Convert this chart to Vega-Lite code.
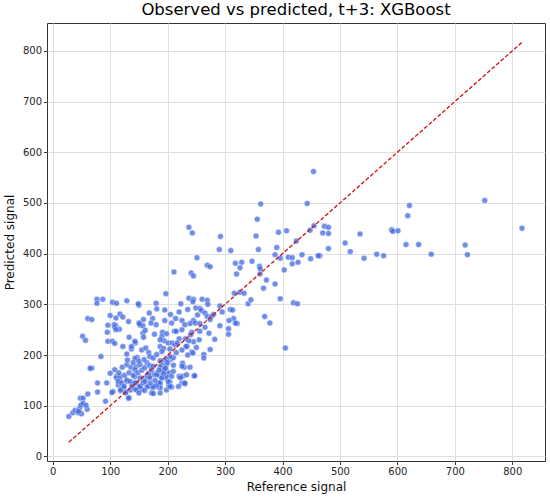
{
  "$schema": "https://vega.github.io/schema/vega-lite/v6.json",
  "autosize": "none",
  "padding": {"left": 47, "top": 23, "right": 5, "bottom": 40},
  "width": 498,
  "height": 438,
  "background": "white",
  "config": {
    "font": "DejaVu Sans",
    "view": {"stroke": "#333333", "strokeWidth": 1},
    "axis": {
      "domain": false,
      "grid": true,
      "gridColor": "#e0e0e0",
      "gridWidth": 1,
      "tickColor": "#333333",
      "tickSize": 3.5,
      "labelFont": "DejaVu Sans",
      "labelFontSize": 10,
      "labelColor": "#262626",
      "labelPadding": 2,
      "titleFont": "DejaVu Sans",
      "titleFontSize": 12,
      "titleFontWeight": "normal",
      "titleColor": "#111111"
    }
  },
  "title": {
    "text": "Observed vs predicted, t+3: XGBoost",
    "font": "DejaVu Sans",
    "fontSize": 16.5,
    "fontWeight": "normal",
    "color": "#000000",
    "anchor": "middle",
    "frame": "group",
    "offset": 5
  },
  "datasets": {
    "points": [
      {"ref": 752, "pred": 505}, {"ref": 817, "pred": 450}, {"ref": 621, "pred": 495}, {"ref": 618, "pred": 475},
      {"ref": 590, "pred": 447}, {"ref": 592, "pred": 444}, {"ref": 601, "pred": 445}, {"ref": 535, "pred": 439},
      {"ref": 473, "pred": 454}, {"ref": 480, "pred": 452}, {"ref": 470, "pred": 441}, {"ref": 480, "pred": 440},
      {"ref": 480, "pred": 410}, {"ref": 465, "pred": 396}, {"ref": 509, "pred": 421}, {"ref": 518, "pred": 404},
      {"ref": 542, "pred": 391}, {"ref": 564, "pred": 399}, {"ref": 576, "pred": 396}, {"ref": 615, "pred": 418},
      {"ref": 637, "pred": 418}, {"ref": 659, "pred": 399}, {"ref": 718, "pred": 417}, {"ref": 722, "pred": 398},
      {"ref": 387, "pred": 340}, {"ref": 396, "pred": 311}, {"ref": 419, "pred": 303}, {"ref": 426, "pred": 301},
      {"ref": 405, "pred": 214}, {"ref": 403, "pred": 368}, {"ref": 427, "pred": 383}, {"ref": 417, "pred": 380},
      {"ref": 410, "pred": 393}, {"ref": 417, "pred": 392}, {"ref": 396, "pred": 391}, {"ref": 434, "pred": 398},
      {"ref": 449, "pred": 390}, {"ref": 462, "pred": 396}, {"ref": 454, "pred": 562}, {"ref": 443, "pred": 499},
      {"ref": 362, "pred": 498}, {"ref": 356, "pred": 468}, {"ref": 237, "pred": 452}, {"ref": 243, "pred": 441},
      {"ref": 292, "pred": 434}, {"ref": 354, "pred": 435}, {"ref": 393, "pred": 442}, {"ref": 407, "pred": 445},
      {"ref": 424, "pred": 425}, {"ref": 448, "pred": 446}, {"ref": 455, "pred": 455}, {"ref": 290, "pred": 408},
      {"ref": 310, "pred": 406}, {"ref": 358, "pred": 408}, {"ref": 390, "pred": 412}, {"ref": 387, "pred": 398},
      {"ref": 251, "pred": 392}, {"ref": 211, "pred": 364}, {"ref": 241, "pred": 362}, {"ref": 245, "pred": 356},
      {"ref": 269, "pred": 377}, {"ref": 274, "pred": 374}, {"ref": 318, "pred": 381}, {"ref": 329, "pred": 383},
      {"ref": 326, "pred": 372}, {"ref": 347, "pred": 385}, {"ref": 360, "pred": 375}, {"ref": 361, "pred": 370},
      {"ref": 320, "pred": 360}, {"ref": 361, "pred": 360}, {"ref": 372, "pred": 348}, {"ref": 367, "pred": 332},
      {"ref": 197, "pred": 321}, {"ref": 316, "pred": 322}, {"ref": 326, "pred": 324}, {"ref": 333, "pred": 322},
      {"ref": 237, "pred": 312}, {"ref": 245, "pred": 310}, {"ref": 260, "pred": 310}, {"ref": 269, "pred": 308},
      {"ref": 244, "pred": 305}, {"ref": 270, "pred": 300}, {"ref": 223, "pred": 301}, {"ref": 195, "pred": 289},
      {"ref": 249, "pred": 293}, {"ref": 256, "pred": 292}, {"ref": 252, "pred": 279}, {"ref": 259, "pred": 288},
      {"ref": 265, "pred": 283}, {"ref": 269, "pred": 276}, {"ref": 276, "pred": 276}, {"ref": 280, "pred": 280},
      {"ref": 274, "pred": 270}, {"ref": 291, "pred": 297}, {"ref": 309, "pred": 290}, {"ref": 295, "pred": 285},
      {"ref": 315, "pred": 272}, {"ref": 321, "pred": 262}, {"ref": 291, "pred": 258}, {"ref": 306, "pred": 252},
      {"ref": 306, "pred": 241}, {"ref": 195, "pred": 268}, {"ref": 214, "pred": 272}, {"ref": 225, "pred": 268},
      {"ref": 207, "pred": 263}, {"ref": 245, "pred": 268}, {"ref": 248, "pred": 263}, {"ref": 239, "pred": 262},
      {"ref": 256, "pred": 262}, {"ref": 212, "pred": 247}, {"ref": 215, "pred": 247}, {"ref": 191, "pred": 245},
      {"ref": 190, "pred": 237}, {"ref": 225, "pred": 250}, {"ref": 272, "pred": 243}, {"ref": 256, "pred": 247},
      {"ref": 242, "pred": 245}, {"ref": 231, "pred": 232}, {"ref": 245, "pred": 226}, {"ref": 220, "pred": 232},
      {"ref": 237, "pred": 228}, {"ref": 282, "pred": 231}, {"ref": 234, "pred": 217}, {"ref": 274, "pred": 211},
      {"ref": 263, "pred": 201}, {"ref": 242, "pred": 206}, {"ref": 244, "pred": 204}, {"ref": 232, "pred": 217},
      {"ref": 194, "pred": 228}, {"ref": 201, "pred": 224}, {"ref": 208, "pred": 224}, {"ref": 213, "pred": 220},
      {"ref": 217, "pred": 224}, {"ref": 187, "pred": 217}, {"ref": 204, "pred": 212}, {"ref": 193, "pred": 213},
      {"ref": 190, "pred": 207}, {"ref": 206, "pred": 192}, {"ref": 210, "pred": 195}, {"ref": 204, "pred": 197},
      {"ref": 187, "pred": 189}, {"ref": 193, "pred": 189}, {"ref": 198, "pred": 191}, {"ref": 190, "pred": 181},
      {"ref": 192, "pred": 174}, {"ref": 197, "pred": 179}, {"ref": 226, "pred": 184}, {"ref": 229, "pred": 176},
      {"ref": 239, "pred": 176}, {"ref": 191, "pred": 168}, {"ref": 198, "pred": 168}, {"ref": 203, "pred": 164},
      {"ref": 220, "pred": 158}, {"ref": 226, "pred": 158}, {"ref": 246, "pred": 159}, {"ref": 187, "pred": 158},
      {"ref": 195, "pred": 155}, {"ref": 198, "pred": 157}, {"ref": 204, "pred": 147}, {"ref": 202, "pred": 141},
      {"ref": 207, "pred": 137}, {"ref": 225, "pred": 145}, {"ref": 230, "pred": 143}, {"ref": 187, "pred": 141},
      {"ref": 187, "pred": 135}, {"ref": 77, "pred": 310}, {"ref": 87, "pred": 310}, {"ref": 77, "pred": 302},
      {"ref": 104, "pred": 304}, {"ref": 111, "pred": 302}, {"ref": 129, "pred": 307}, {"ref": 150, "pred": 298},
      {"ref": 180, "pred": 302}, {"ref": 181, "pred": 291}, {"ref": 168, "pred": 283}, {"ref": 174, "pred": 272},
      {"ref": 180, "pred": 260}, {"ref": 171, "pred": 263}, {"ref": 158, "pred": 270}, {"ref": 100, "pred": 278},
      {"ref": 110, "pred": 273}, {"ref": 117, "pred": 281}, {"ref": 122, "pred": 275}, {"ref": 61, "pred": 272},
      {"ref": 68, "pred": 270}, {"ref": 132, "pred": 266}, {"ref": 150, "pred": 263}, {"ref": 152, "pred": 259},
      {"ref": 157, "pred": 258}, {"ref": 110, "pred": 258}, {"ref": 116, "pred": 251}, {"ref": 95, "pred": 245},
      {"ref": 157, "pred": 243}, {"ref": 177, "pred": 241}, {"ref": 198, "pred": 242}, {"ref": 187, "pred": 230},
      {"ref": 52, "pred": 237}, {"ref": 57, "pred": 229}, {"ref": 96, "pred": 227}, {"ref": 104, "pred": 227},
      {"ref": 108, "pred": 223}, {"ref": 144, "pred": 224}, {"ref": 137, "pred": 212}, {"ref": 84, "pred": 197},
      {"ref": 68, "pred": 174}, {"ref": 100, "pred": 164}, {"ref": 108, "pred": 171}, {"ref": 94, "pred": 145},
      {"ref": 78, "pred": 127}, {"ref": 92, "pred": 109}, {"ref": 133, "pred": 116}, {"ref": 121, "pred": 176},
      {"ref": 129, "pred": 181}, {"ref": 136, "pred": 176}, {"ref": 145, "pred": 177}, {"ref": 152, "pred": 181},
      {"ref": 143, "pred": 171}, {"ref": 164, "pred": 185}, {"ref": 169, "pred": 179}, {"ref": 147, "pred": 195},
      {"ref": 143, "pred": 193}, {"ref": 159, "pred": 191}, {"ref": 155, "pred": 210}, {"ref": 162, "pred": 214},
      {"ref": 167, "pred": 205}, {"ref": 169, "pred": 197}, {"ref": 175, "pred": 194}, {"ref": 181, "pred": 201},
      {"ref": 187, "pred": 177}, {"ref": 193, "pred": 171}, {"ref": 181, "pred": 164}, {"ref": 175, "pred": 161},
      {"ref": 168, "pred": 158}, {"ref": 111, "pred": 158}, {"ref": 117, "pred": 151}, {"ref": 114, "pred": 141},
      {"ref": 123, "pred": 138}, {"ref": 129, "pred": 148}, {"ref": 138, "pred": 141}, {"ref": 135, "pred": 131},
      {"ref": 146, "pred": 145}, {"ref": 151, "pred": 137}, {"ref": 155, "pred": 132}, {"ref": 164, "pred": 138},
      {"ref": 143, "pred": 157}, {"ref": 152, "pred": 155}, {"ref": 158, "pred": 151}, {"ref": 166, "pred": 138},
      {"ref": 174, "pred": 135}, {"ref": 181, "pred": 138}, {"ref": 184, "pred": 145}, {"ref": 105, "pred": 128},
      {"ref": 119, "pred": 133}, {"ref": 126, "pred": 128}, {"ref": 28, "pred": 79}, {"ref": 35, "pred": 86},
      {"ref": 39, "pred": 91}, {"ref": 46, "pred": 93}, {"ref": 48, "pred": 99}, {"ref": 50, "pred": 102},
      {"ref": 48, "pred": 115}, {"ref": 53, "pred": 115}, {"ref": 44, "pred": 86}, {"ref": 50, "pred": 84},
      {"ref": 60, "pred": 93}, {"ref": 53, "pred": 105}, {"ref": 61, "pred": 123}, {"ref": 58, "pred": 101},
      {"ref": 45, "pred": 89}, {"ref": 65, "pred": 174}, {"ref": 78, "pred": 145}, {"ref": 369, "pred": 276},
      {"ref": 378, "pred": 263}, {"ref": 340, "pred": 301}, {"ref": 345, "pred": 309}, {"ref": 313, "pred": 289},
      {"ref": 307, "pred": 268}, {"ref": 318, "pred": 263}, {"ref": 263, "pred": 194}, {"ref": 129, "pred": 202},
      {"ref": 122, "pred": 217}, {"ref": 137, "pred": 217}, {"ref": 143, "pred": 227}, {"ref": 133, "pred": 235},
      {"ref": 149, "pred": 301}, {"ref": 161, "pred": 249}, {"ref": 158, "pred": 235}, {"ref": 151, "pred": 262},
      {"ref": 107, "pred": 260}, {"ref": 96, "pred": 259}, {"ref": 108, "pred": 255}, {"ref": 110, "pred": 250},
      {"ref": 111, "pred": 155}, {"ref": 117, "pred": 158}, {"ref": 114, "pred": 148}, {"ref": 120, "pred": 145},
      {"ref": 124, "pred": 138}, {"ref": 129, "pred": 151}, {"ref": 135, "pred": 148}, {"ref": 138, "pred": 138},
      {"ref": 143, "pred": 133}, {"ref": 146, "pred": 131}, {"ref": 143, "pred": 145}, {"ref": 152, "pred": 138},
      {"ref": 157, "pred": 145}, {"ref": 161, "pred": 148}, {"ref": 164, "pred": 158}, {"ref": 167, "pred": 164},
      {"ref": 169, "pred": 155}, {"ref": 172, "pred": 171}, {"ref": 175, "pred": 178}, {"ref": 181, "pred": 161},
      {"ref": 181, "pred": 141}, {"ref": 187, "pred": 146}, {"ref": 190, "pred": 155}, {"ref": 193, "pred": 164},
      {"ref": 196, "pred": 174}, {"ref": 172, "pred": 125}, {"ref": 175, "pred": 138}, {"ref": 187, "pred": 125},
      {"ref": 198, "pred": 131}, {"ref": 204, "pred": 138}, {"ref": 201, "pred": 148}, {"ref": 207, "pred": 158},
      {"ref": 210, "pred": 168}, {"ref": 222, "pred": 155}, {"ref": 225, "pred": 178}, {"ref": 230, "pred": 145},
      {"ref": 233, "pred": 161}, {"ref": 219, "pred": 138}, {"ref": 132, "pred": 115}, {"ref": 103, "pred": 126},
      {"ref": 175, "pred": 124}, {"ref": 247, "pred": 159}, {"ref": 115, "pred": 165}, {"ref": 125, "pred": 160},
      {"ref": 133, "pred": 165}, {"ref": 140, "pred": 160}, {"ref": 148, "pred": 165}, {"ref": 155, "pred": 170},
      {"ref": 160, "pred": 175}, {"ref": 130, "pred": 190}, {"ref": 140, "pred": 185}, {"ref": 150, "pred": 188},
      {"ref": 118, "pred": 130}, {"ref": 127, "pred": 125}, {"ref": 150, "pred": 125}, {"ref": 160, "pred": 130},
      {"ref": 170, "pred": 145}, {"ref": 178, "pred": 150}, {"ref": 185, "pred": 170}, {"ref": 200, "pred": 185},
      {"ref": 210, "pred": 180}, {"ref": 215, "pred": 205}, {"ref": 225, "pred": 210}, {"ref": 235, "pred": 200},
      {"ref": 250, "pred": 215}, {"ref": 255, "pred": 230}, {"ref": 240, "pred": 240}, {"ref": 230, "pred": 260},
      {"ref": 265, "pred": 255}, {"ref": 220, "pred": 285}, {"ref": 205, "pred": 280}, {"ref": 235, "pred": 290}
    ],
    "diagonal": [
      {"ref": 28, "pred": 28},
      {"ref": 817, "pred": 817}
    ]
  },
  "layer": [
    {
      "data": {"name": "points"},
      "mark": {
        "type": "circle",
        "size": 36,
        "color": "#4169E1",
        "opacity": 0.75,
        "stroke": "white",
        "strokeWidth": 0.5
      },
      "encoding": {
        "x": {
          "field": "ref",
          "type": "quantitative",
          "title": "Reference signal",
          "scale": {"domain": [-10, 857], "nice": false, "zero": false},
          "axis": {"values": [0, 100, 200, 300, 400, 500, 600, 700, 800], "titlePadding": 5}
        },
        "y": {
          "field": "pred",
          "type": "quantitative",
          "title": "Predicted signal",
          "scale": {"domain": [-9, 855], "nice": false, "zero": false},
          "axis": {"values": [0, 100, 200, 300, 400, 500, 600, 700, 800], "titlePadding": 6}
        }
      }
    },
    {
      "data": {"name": "diagonal"},
      "mark": {
        "type": "line",
        "color": "#cc1111",
        "strokeWidth": 1.3,
        "strokeDash": [4, 2]
      },
      "encoding": {
        "x": {"field": "ref", "type": "quantitative"},
        "y": {"field": "pred", "type": "quantitative"}
      }
    }
  ]
}
